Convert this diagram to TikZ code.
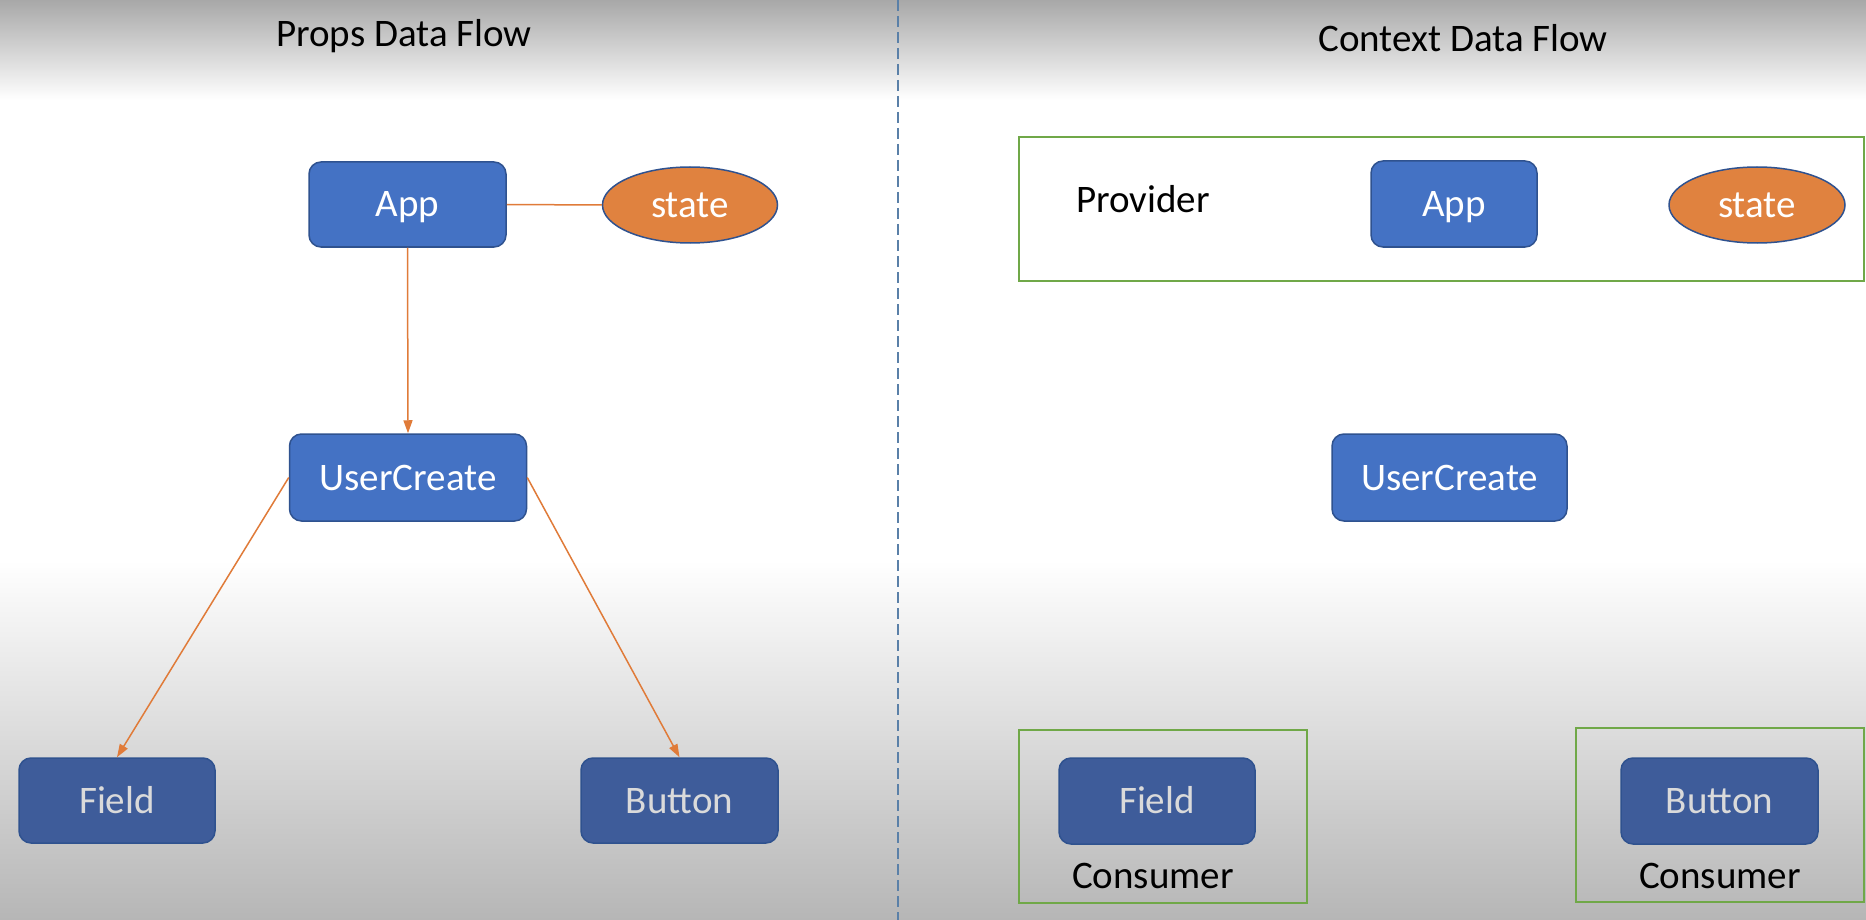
\documentclass[tikz,border=0pt]{standalone}
\usepackage{fontspec}
\setmainfont{Carlito}
\usetikzlibrary{shapes.geometric,arrows.meta}
\definecolor{boxblue}{HTML}{4472C4}
\definecolor{boxedge}{HTML}{2F528F}
\definecolor{lowblue}{HTML}{3E5C9A}
\definecolor{lowtext}{HTML}{DADADA}
\definecolor{stateor}{HTML}{E0823F}
\definecolor{arroworange}{HTML}{E07B39}
\definecolor{framegreen}{HTML}{70A848}
\definecolor{divider}{HTML}{5A80A8}
\definecolor{topgray}{HTML}{A8A8A8}
\definecolor{botgray}{HTML}{B6B6B6}
\begin{document}
\begin{tikzpicture}[x=1pt,y=-1pt,
  every node/.style={font=\fontsize{39}{44}\selectfont},
  blockbox/.style={rectangle, rounded corners=12pt, draw=boxedge, line width=1.5pt,
    fill=boxblue, text=white, inner sep=0pt, text height=25pt, text depth=0pt},
  lowbox/.style={blockbox, fill=lowblue, text=lowtext},
  stateell/.style={ellipse, draw=boxedge, line width=1.5pt, fill=stateor, text=white,
    inner sep=0pt, text height=25pt, text depth=0pt, minimum width=175pt, minimum height=76pt},
  frame/.style={draw=framegreen, line width=2pt},
  flow/.style={draw=arroworange, line width=1.5pt, -{Triangle[length=13pt,width=9pt]}},
  plainlabel/.style={text=black, inner sep=0pt, anchor=base}
]
\useasboundingbox (0,0) rectangle (1866,920);
% background
\fill[white] (0,0) rectangle (1866,920);
\shade[top color=topgray, bottom color=white] (0,0) rectangle (1866,100);
\shade[top color=white, bottom color=botgray] (0,560) rectangle (1866,920);

% divider
\coordinate (dtop) at (898,0);
\coordinate (dbot) at (898,920);
\draw[divider, line width=2pt, dash pattern=on 11pt off 5pt] (dtop) -- (dbot);

% titles
\node[plainlabel] (propstitle) at (404,47) {Props Data Flow};
\node[plainlabel] (ctxtitle) at (1463,52) {Context Data Flow};

% ---- left: props data flow
\node[blockbox, minimum width=197pt, minimum height=85pt] (appL) at (407.5,204.5) {App};
\node[stateell] (stateL) at (690,205) {state};
\node[blockbox, minimum width=237pt, minimum height=87pt] (ucL) at (408,477.5) {UserCreate};
\node[lowbox, minimum width=196pt, minimum height=85pt] (fieldL) at (117,800.5) {Field};
\node[lowbox, minimum width=197pt, minimum height=85pt] (buttonL) at (679.5,800.5) {Button};

\draw[draw=arroworange, line width=1.5pt] (appL.east) -- (stateL.west);
\draw[flow] (appL.south) -- (ucL.north);
\draw[flow] (ucL.west) -- (fieldL.north);
\draw[flow] (ucL.east) -- (buttonL.north);

% ---- right: context data flow
\node[frame, rectangle, minimum width=845pt, minimum height=144pt, inner sep=0pt] (provbox) at (1441.5,209) {};
\node[plainlabel] (provlabel) at (1143,213) {Provider};
\node[blockbox, minimum width=166pt, minimum height=86pt] (appR) at (1454,204) {App};
\node[stateell, minimum width=176pt] (stateR) at (1757,205) {state};
\node[blockbox, minimum width=235pt, minimum height=87pt] (ucR) at (1449.5,477.5) {UserCreate};

\node[frame, rectangle, minimum width=288pt, minimum height=173pt, inner sep=0pt] (conbox1) at (1163,816.5) {};
\node[lowbox, minimum width=196pt, minimum height=86pt] (fieldR) at (1157,801) {Field};
\node[plainlabel] (con1) at (1153,888) {Consumer};

\node[frame, rectangle, minimum width=288pt, minimum height=174pt, inner sep=0pt] (conbox2) at (1720,815) {};
\node[lowbox, minimum width=197pt, minimum height=86pt] (buttonR) at (1719.5,801) {Button};
\node[plainlabel] (con2) at (1720,888) {Consumer};
\end{tikzpicture}
\end{document}
